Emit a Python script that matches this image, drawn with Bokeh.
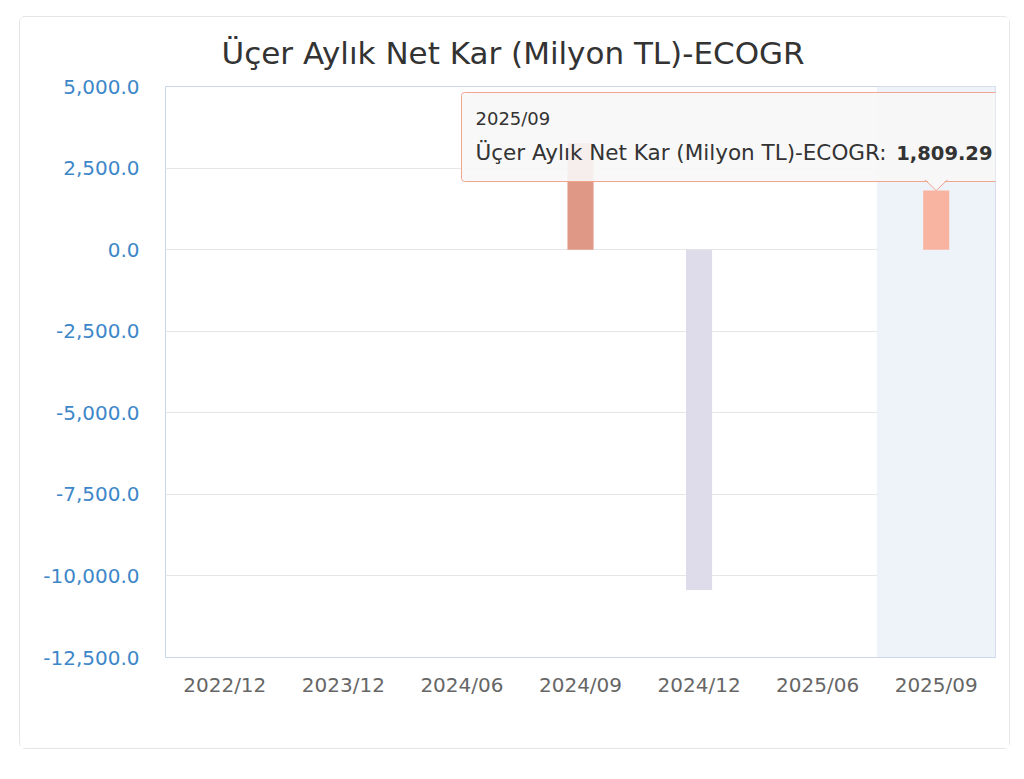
from bokeh.plotting import figure
from bokeh.models import (Range1d, FixedTicker, NumeralTickFormatter, Label,
                          ColumnDataSource)
from bokeh.embed import file_html
from bokeh.resources import INLINE

# ---- data ----
categories = ["2022/12", "2023/12", "2024/06", "2024/09", "2024/12", "2025/06", "2025/09"]
values = [0.0, 0.0, 0.0, 3260.0, -10430.0, 0.0, 1809.29]
bar_colors = ["#7cb5ec", "#434348", "#90ed7d", "#e09886", "#dedbeb", "#f7a35c", "#f8b4a0"]
y_ticks = [-12500, -10000, -7500, -5000, -2500, 0, 2500, 5000]
title_text = "Üçer Aylık Net Kar (Milyon TL)-ECOGR"
hover_category = "2025/09"
series_name = "Üçer Aylık Net Kar (Milyon TL)-ECOGR"

FONT = "DejaVu Sans"

p = figure(x_range=categories, y_range=Range1d(y_ticks[0], y_ticks[-1]),
           width=991, height=733, output_backend="svg", toolbar_location=None,
           min_border_left=145, min_border_right=16, min_border_top=69,
           min_border_bottom=93, title=title_text)
p.styles = {"border": "1px solid #e6e6e6", "border-radius": "6px",
            "position": "absolute", "left": "19px", "top": "16px"}
p.background_fill_color = "white"
p.border_fill_color = "white"
p.outline_line_color = "#ccd6eb"

# title
p.title.text_font = FONT
p.title.text_font_size = "31px"
p.title.text_font_style = "normal"
p.title.text_color = "#333333"
p.title.align = "left"
p.title.offset = 56
p.title.standoff = 31

# hover band on the highlighted category
hi = categories.index(hover_category)
p.vbar(x=[hover_category], top=[y_ticks[-1]], bottom=[y_ticks[0]], width=1.0,
       fill_color="#eef2f9", line_color=None)

# bars
src = ColumnDataSource(dict(x=categories, top=values, color=bar_colors))
p.vbar(x="x", top="top", bottom=0, width=0.22, fill_color="color",
       line_color=None, source=src)

# axes
p.yaxis.ticker = FixedTicker(ticks=y_ticks)
p.yaxis.formatter = NumeralTickFormatter(format="0,0.0")
p.yaxis.major_label_text_font = FONT
p.yaxis.major_label_text_font_size = "20px"
p.yaxis.major_label_text_color = "#3d87c9"
p.yaxis.axis_line_color = None
p.yaxis.major_tick_line_color = None
p.yaxis.minor_tick_line_color = None
p.yaxis.major_label_standoff = 20

p.xaxis.major_label_text_font = FONT
p.xaxis.major_label_text_font_size = "20px"
p.xaxis.major_label_text_color = "#666666"
p.xaxis.axis_line_color = "#ccd6eb"
p.xaxis.major_tick_line_color = None
p.xaxis.minor_tick_line_color = None
p.xaxis.major_label_standoff = 9

p.xgrid.grid_line_color = None
p.ygrid.grid_line_color = "#e6e6e6"

# ---- tooltip (screen units relative to the frame) ----
# header label carries the tooltip box via its padding (anchor = box top-left)
p.add_layout(Label(x=296, y=565, x_units="screen", y_units="screen", text=hover_category,
                   text_align="left", text_baseline="top",
                   padding=dict(left=14, right=458, top=15, bottom=53),
                   background_fill_color="#f7f7f7", background_fill_alpha=0.9,
                   border_line_color="#f0a590", border_line_width=1, border_radius=3,
                   text_font=FONT, text_font_size="18px", text_color="#333333"))

val = values[hi]
cx = hi + 0.5
notch_h = 330
notch_w = 0.095
p.patch(x=[cx - notch_w, cx + notch_w, cx], y=[val + notch_h + 40, val + notch_h + 40, val],
        fill_color="#f7f7f7", line_color=None, level="overlay")
p.line(x=[cx - notch_w, cx, cx + notch_w], y=[val + notch_h, val, val + notch_h],
       line_color="#f0a590", line_width=1, level="overlay")

p.add_layout(Label(x=310, y=505, x_units="screen", y_units="screen", text=series_name + ": ",
                   text_baseline="alphabetic",
                   text_font=FONT, text_font_size="21.5px", text_color="#333333"))
p.add_layout(Label(x=827, y=505, x_units="screen", y_units="screen",
                   text=f"{val:,.2f}", text_align="right", text_baseline="alphabetic",
                   text_font=FONT, text_font_size="19.5px", text_font_style="bold",
                   text_color="#333333"))

open("out.html", "w").write(file_html(p, INLINE))
